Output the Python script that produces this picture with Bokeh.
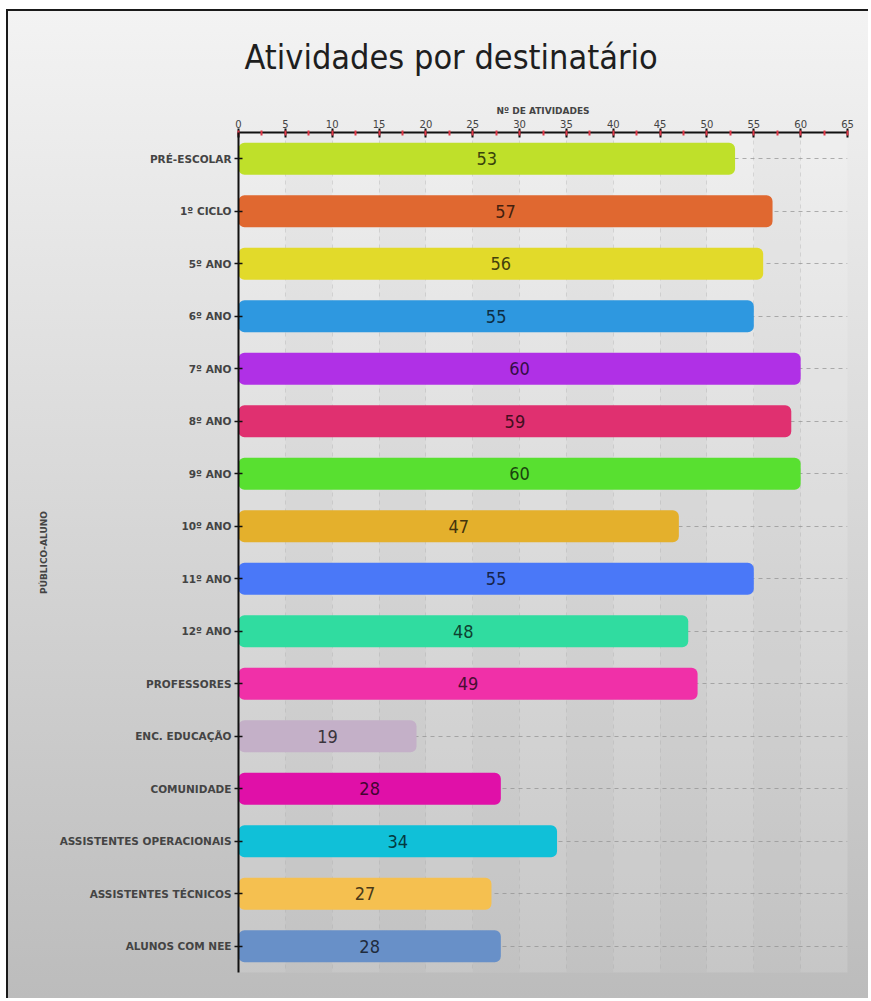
from bokeh.plotting import figure
from bokeh.models import Range1d, FixedTicker, SingleIntervalTicker, ColumnDataSource, Title
from bokeh.core.properties import value
from bokeh.embed import file_html
from bokeh.resources import INLINE

# ---- data ----
title_text = "Atividades por destinatário"
categories = ["PRÉ-ESCOLAR", "1º CICLO", "5º ANO", "6º ANO", "7º ANO", "8º ANO", "9º ANO",
              "10º ANO", "11º ANO", "12º ANO", "PROFESSORES", "ENC. EDUCAÇÃO", "COMUNIDADE",
              "ASSISTENTES OPERACIONAIS", "ASSISTENTES TÉCNICOS", "ALUNOS COM NEE"]
activities = [53, 57, 56, 55, 60, 59, 60, 47, 55, 48, 49, 19, 28, 34, 27, 28]
bar_colors = ["#BFE02A", "#E06830", "#E2DA2A", "#2E98E0", "#B030E6", "#E03070", "#58E030",
              "#E4B02C", "#4A78F8", "#30DCA0", "#F030A8", "#C4B0C8", "#E010A8",
              "#10C0D8", "#F5C050", "#6890C8"]
x_ticks_interval = 5

COND = "'DejaVu Sans Condensed', 'Roboto Condensed', Roboto, sans-serif"

def darker(hexc, f=0.3):
    r, g, b = int(hexc[1:3], 16), int(hexc[3:5], 16), int(hexc[5:7], 16)
    return "#%02x%02x%02x" % (int(r * f), int(g * f), int(b * f))

idx = list(range(len(categories)))
src = ColumnDataSource(dict(
    y=idx,
    v=activities,
    mid=[a / 2 for a in activities],
    label=[str(a) for a in activities],
    color=bar_colors,
    tc=[darker(c) for c in bar_colors],
))

p = figure(width=862, height=989, output_backend="svg", toolbar_location=None,
           x_range=Range1d(0, 65), y_range=Range1d(len(categories) - 0.5, -0.5),
           x_axis_location="above",
           min_border_left=230, min_border_right=23, min_border_top=121, min_border_bottom=28)

p.title = Title(text=title_text, align="left", offset=6,
                text_font=COND, text_font_size="34px", vertical_align="top",
                text_font_style="normal", text_color="#1e1e1e", standoff=48)

p.border_fill_color = None
p.background_fill_color = "white"
p.background_fill_alpha = 0.15
p.outline_line_color = None
p.styles = {"background": "linear-gradient(to bottom, #f3f3f3, #bcbcbc)",
            "border": "0px none transparent",
            "border-left": "2px solid #1a1a1a", "border-top": "2px solid #1a1a1a",
            "border-right": "0px none transparent", "border-bottom": "0px none transparent",
            "margin-left": "6px", "margin-top": "9px"}

# grids
p.xgrid.ticker = SingleIntervalTicker(interval=x_ticks_interval)
p.xgrid.grid_line_color = "#a8a8a8"
p.xgrid.grid_line_alpha = 0.35
p.xgrid.grid_line_dash = "4 4"
p.xgrid.band_fill_color = "#000000"
p.xgrid.band_fill_alpha = 0.025
p.ygrid.ticker = FixedTicker(ticks=idx)
p.ygrid.grid_line_color = "#909090"
p.ygrid.grid_line_alpha = 0.7
p.ygrid.grid_line_dash = "4 4"

p.hbar(y="y", right="v", left=0, height=0.61, fill_color="color", line_color=None,
       border_radius=6, source=src)
p.text(x="mid", y="y", text="label", text_align="center", text_baseline="middle",
       text_font=value(COND), text_font_size="18px",
       text_color="tc", source=src)

# x axis (top)
xa = p.xaxis[0]
xa.ticker = SingleIntervalTicker(interval=x_ticks_interval, num_minor_ticks=2)
xa.axis_label = "Nº DE ATIVIDADES"
xa.axis_label_text_font = "DejaVu Sans"
xa.axis_label_text_font_size = "9px"
xa.axis_label_text_font_style = "bold"
xa.axis_label_standoff = 1
xa.major_label_text_font = "DejaVu Sans"
xa.major_label_text_font_size = "10px"
xa.major_label_standoff = 1
xa.axis_line_color = "#111111"
xa.axis_line_width = 2
xa.major_tick_line_color = "#111111"
xa.major_tick_line_width = 2
xa.major_tick_in = 5
xa.major_tick_out = 4
xa.minor_tick_line_color = "#e03848"
xa.minor_tick_line_width = 2
xa.minor_tick_in = 3
xa.minor_tick_out = 2

# y axis (left)
ya = p.yaxis[0]
ya.ticker = FixedTicker(ticks=idx)
ya.major_label_overrides = {i: c for i, c in enumerate(categories)}
ya.axis_label = "PÚBLICO-ALUNO"
ya.axis_label_text_font = "DejaVu Sans"
ya.axis_label_text_font_size = "9px"
ya.axis_label_text_font_style = "bold"
ya.axis_label_standoff = 8
ya.major_label_text_font = "DejaVu Sans"
ya.major_label_text_font_size = "10.5px"
ya.major_label_text_font_style = "bold"
ya.major_label_standoff = 3
ya.axis_line_color = "#111111"
ya.axis_line_width = 2
ya.major_tick_line_color = "#111111"
ya.major_tick_line_width = 1.5
ya.major_tick_in = 4
ya.major_tick_out = 4

open("out.html", "w").write(file_html(p, INLINE))
